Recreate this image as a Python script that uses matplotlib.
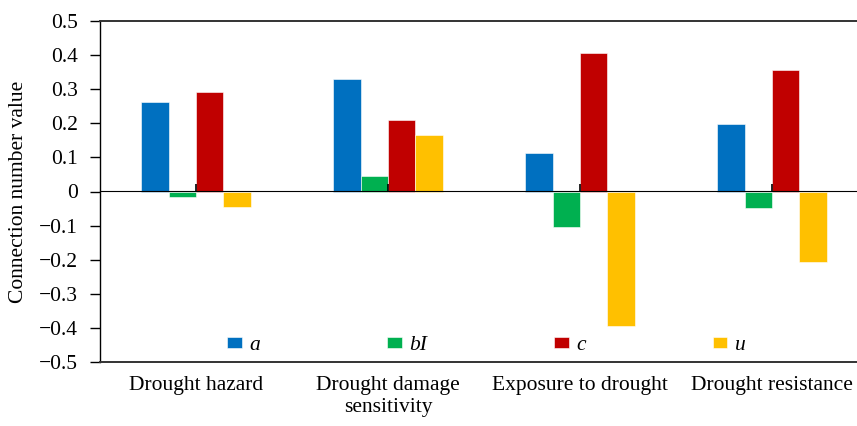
import numpy as np
import matplotlib.pyplot as plt

plt.rcParams['font.family'] = ['Liberation Serif', 'DejaVu Serif']

# Data
categories = ["Drought hazard", "Drought damage\nsensitivity",
              "Exposure to drought", "Drought resistance"]
series_names = ["a", "bI", "c", "u"]
a_vals = [0.263, 0.331, 0.114, 0.197]
bI_vals = [-0.017, 0.044, -0.103, -0.049]
c_vals = [0.292, 0.209, 0.407, 0.355]
u_vals = [-0.046, 0.167, -0.395, -0.207]
colors = ['#0070C0', '#00B050', '#C00000', '#FFC000']
yticks = np.round(np.arange(-0.5, 0.51, 0.1), 1)

fs = 15.5

fig = plt.figure(figsize=(8.57, 4.26), dpi=100)
ax = fig.add_axes([100/857, 64/426, 768/857, 341/426])

x = np.arange(len(categories))
w = 0.143
for i, (vals, name, col) in enumerate(zip([a_vals, bI_vals, c_vals, u_vals], series_names, colors)):
    ax.bar(x + (i - 1.5) * w, vals, w, color=col, label=name,
           edgecolor='white', linewidth=0.4, zorder=2)

ax.set_xlim(-0.5, 3.5)
ax.set_ylim(-0.5, 0.5)
ax.set_yticks(yticks)
ax.set_yticklabels([('0' if v == 0 else f"{v:.1f}".replace('-', '\u2212')) for v in yticks],
                   fontsize=fs)
ax.tick_params(axis='y', direction='out', length=7, width=1, pad=9)
ax.set_xticks(x)
ax.set_xticklabels(categories, fontsize=fs, linespacing=1.25)
ax.tick_params(axis='x', length=0, pad=10)
ax.set_ylabel("Connection number value", fontsize=fs, labelpad=8)

ax.spines['right'].set_visible(False)
for s in ['top', 'bottom']:
    ax.spines[s].set_color('#333333')
    ax.spines[s].set_linewidth(1.4)
ax.spines['left'].set_linewidth(1.0)

# zero line with category ticks pointing up
zax = ax.secondary_xaxis(0.5)
zax.set_xticks(x)
zax.set_xticklabels([])
zax.tick_params(direction='out', length=5, width=1.2)
zax.spines['bottom'].set_linewidth(1.2)
zax.set_zorder(5)

ax.legend(loc='center', bbox_to_anchor=(0.503, 0.048), ncol=4, frameon=False,
          handlelength=0.68, handleheight=0.45, handletextpad=0.35,
          columnspacing=5.9, borderpad=0, prop={'style': 'italic', 'size': fs})

fig.savefig("out.png", dpi=100)
